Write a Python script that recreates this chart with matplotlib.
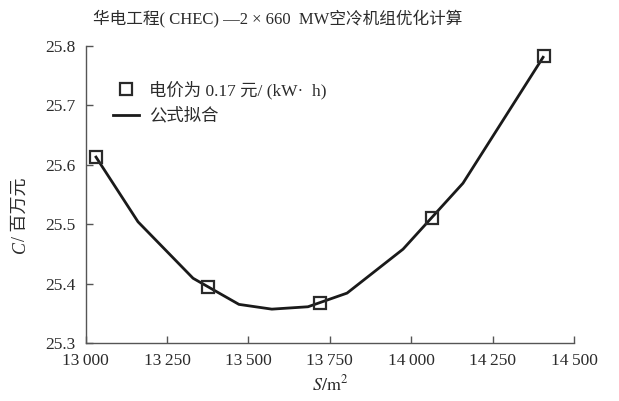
import matplotlib
matplotlib.use("Agg")
import matplotlib.pyplot as plt
from matplotlib.lines import Line2D

# 數值由原圖讀取
price_s = [13032, 13376, 13720, 14064, 14408]
price_c = [25.613, 25.394, 25.367, 25.510, 25.783]

fit_s = [13032, 13161, 13330, 13471, 13572, 13683, 13803, 13975, 14159, 14405]
fit_c = [25.613, 25.504, 25.409, 25.365, 25.357, 25.361, 25.384, 25.458, 25.569, 25.781]

x_ticks = [13000, 13250, 13500, 13750, 14000, 14250, 14500]
x_tick_labels = ["13\u2009000", "13\u2009250", "13\u2009500", "13\u2009750",
                 "14\u2009000", "14\u2009250", "14\u2009500"]
y_ticks = [25.3, 25.4, 25.5, 25.6, 25.7, 25.8]

title = "华电工程( CHEC) —2 × 660  MW空冷机组优化计算"
legend_labels = ["电价为 0.17 元/ (kW·  h)", "公式拟合"]

fonts = ["Liberation Serif", "Noto Sans CJK SC", "DejaVu Serif"]
plt.rcParams["font.family"] = fonts
plt.rcParams["mathtext.fontset"] = "stix"
text_color = "#2b2b2b"
W, H = 619, 401

fig = plt.figure(figsize=(W / 100, H / 100), dpi=100)
ax = fig.add_axes([85.6 / W, 1 - 343 / H, (574 - 85.6) / W, (343 - 46) / H])

ax.plot(fit_s, fit_c, color="#1a1a1a", lw=2.0, zorder=2)
ax.plot(price_s, price_c, ls="none", marker="s", ms=9, mfc="none",
        mec="#2a2a2a", mew=1.6, zorder=3)

ax.set_xlim(13000, 14500)
ax.set_ylim(25.3, 25.8)
ax.set_xticks(x_ticks)
ax.set_xticklabels(x_tick_labels)
ax.set_yticks(y_ticks)
ax.set_yticklabels([f"{v:.1f}" for v in y_ticks])

for side in ("top", "right"):
    ax.spines[side].set_visible(False)
for side in ("left", "bottom"):
    ax.spines[side].set_color("#555555")
    ax.spines[side].set_linewidth(1.0)
ax.tick_params(direction="in", length=5, width=1.0, color="#555555",
               labelsize=12.5, labelcolor=text_color, pad=7)

handles = [
    Line2D([], [], ls="none", marker="s", ms=9, mfc="none", mec="#2a2a2a", mew=1.6),
    Line2D([], [], color="#1a1a1a", lw=2.0),
]
leg = ax.legend(handles, legend_labels, loc="upper left",
                bbox_to_anchor=(20 / 488, 1 - 28 / 297), frameon=False,
                fontsize=12.5, handlelength=1.55, handletextpad=0.57,
                labelspacing=0.5, borderaxespad=0)
for t in leg.get_texts():
    t.set_color(text_color)

fig.text(278 / W, 1 - 18 / H, title, ha="center", va="center",
         fontsize=12, color=text_color)

fig.text(330 / W, 1 - 384 / H, r"$S/\mathrm{m}^2$", ha="center", va="center",
         fontsize=13, color=text_color)

fig.text(20 / W, 1 - 247 / H, "C", rotation=90, ha="center", va="center",
         fontsize=13, style="italic", color=text_color)
fig.text(20 / W, 1 - 241 / H, "/ 百万元", rotation=90, ha="center", va="bottom",
         fontsize=13, color=text_color)

fig.savefig("out.png", dpi=100)
